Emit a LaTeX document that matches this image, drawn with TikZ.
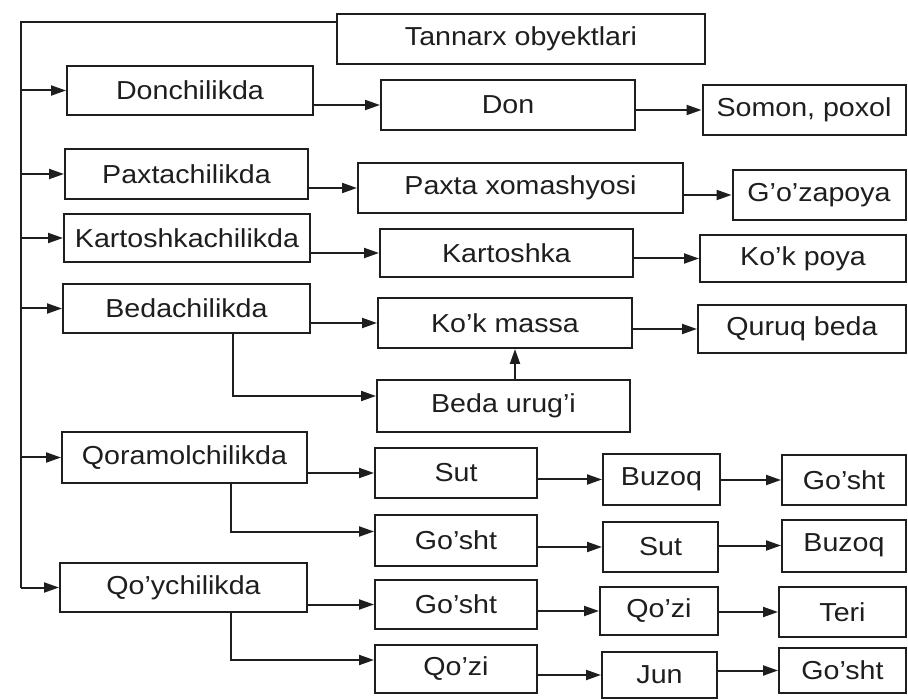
\documentclass[tikz,border=0pt]{standalone}
\usepackage{fontspec}
\setmainfont{Liberation Sans}[FakeStretch=1.1]
\usetikzlibrary{arrows.meta}
\definecolor{ink}{HTML}{1E1E1E}
\begin{document}
\begin{tikzpicture}[x=1pt,y=-1pt,
  box/.style={draw=ink,line width=2pt,inner sep=0pt,anchor=center,
    text=ink,font=\fontsize{26}{30}\selectfont},
  arr/.style={draw=ink,line width=2pt,-{Triangle[length=15pt,width=10pt]}},
  ln/.style={draw=ink,line width=2pt}]
\useasboundingbox (0,0) rectangle (908,700);
\fill[white] (0,0) rectangle (908,700);
% top
\node[box,minimum width=368pt,minimum height=50pt] (title) at (521,39) {Tannarx obyektlari};
% Donchilikda row
\node[box,minimum width=246pt,minimum height=49pt] (don1) at (190,90.5) {Donchilikda};
\node[box,minimum width=254pt,minimum height=50pt] (don2) at (508,105) {Don};
\node[box,minimum width=203pt,minimum height=50pt] (don3) at (804,110) {Somon, poxol};
% Paxtachilikda row
\node[box,minimum width=243pt,minimum height=50pt] (pax1) at (186.5,174) {Paxtachilikda};
\node[box,minimum width=325pt,minimum height=50pt] (pax2) at (520.5,188) {Paxta xomashyosi};
\node[box,minimum width=173pt,minimum height=50pt] (pax3) at (819,195) {G'o'zapoya};
% Kartoshkachilikda row
\node[box,minimum width=246pt,minimum height=48pt] (kar1) at (187,238) {Kartoshkachilikda};
\node[box,minimum width=253pt,minimum height=48pt] (kar2) at (506.5,253) {Kartoshka};
\node[box,minimum width=206pt,minimum height=47pt] (kar3) at (803,258.5) {Ko'k poya};
% Bedachilikda row
\node[box,minimum width=247pt,minimum height=49pt] (bed1) at (186.5,308.5) {Bedachilikda};
\node[box,minimum width=254pt,minimum height=50pt] (bed2) at (505,323) {Ko'k massa};
\node[box,minimum width=208pt,minimum height=48pt] (bed3) at (802,329) {Quruq beda};
\node[box,minimum width=253pt,minimum height=52pt] (bed4) at (503.5,406) {Beda urug'i};
% Qoramolchilikda rows
\node[box,minimum width=245pt,minimum height=51pt] (qor1) at (184.5,457.5) {Qoramolchilikda};
\node[box,minimum width=162pt,minimum height=50pt] (qor2) at (456,473) {Sut};
\node[box,minimum width=117pt,minimum height=51pt] (qor3) at (661.5,479.5) {Buzoq};
\node[box,minimum width=124pt,minimum height=50pt] (qor4) at (844,480) {Go'sht};
\node[box,minimum width=162pt,minimum height=51pt] (qor5) at (456,540.5) {Go'sht};
\node[box,minimum width=115pt,minimum height=50pt] (qor6) at (660.5,547) {Sut};
\node[box,minimum width=124pt,minimum height=52pt] (qor7) at (844,545.5) {Buzoq};
% Qo'ychilikda rows
\node[box,minimum width=247pt,minimum height=49pt] (qoy1) at (183.5,587.5) {Qo'ychilikda};
\node[box,minimum width=162pt,minimum height=49pt] (qoy2) at (456,604.5) {Go'sht};
\node[box,minimum width=118pt,minimum height=48pt] (qoy3) at (659,611) {Qo'zi};
\node[box,minimum width=127pt,minimum height=50pt] (qoy4) at (842.5,612) {Teri};
\node[box,minimum width=162pt,minimum height=48pt] (qoy5) at (456,669) {Qo'zi};
\node[box,minimum width=115pt,minimum height=46pt] (qoy6) at (659.5,675) {Jun};
\node[box,minimum width=127pt,minimum height=45pt] (qoy7) at (842.5,670.5) {Go'sht};
% trunk
\coordinate (top) at (21,22);
\draw[ln] (title.west |- top) -- (top) -- (top |- qoy1.west);
\foreach \n in {don1,pax1,kar1,bed1,qor1,qoy1}
  \draw[arr] (top |- \n.west) -- (\n.west);
% horizontal chains
\foreach \a/\b in {don1/don2,don2/don3,pax1/pax2,pax2/pax3,kar1/kar2,kar2/kar3,
  bed1/bed2,bed2/bed3,qor1/qor2,qor2/qor3,qor3/qor4,qor5/qor6,qor6/qor7,
  qoy1/qoy2,qoy2/qoy3,qoy3/qoy4,qoy5/qoy6,qoy6/qoy7}
  \draw[arr] (\a.east |- \b.west) -- (\b.west);
% elbow branches
\draw[arr] ([xshift=46pt]bed1.south) |- ([yshift=10pt]bed4.west);
\draw[arr] ([xshift=46pt]qor1.south) |- ([yshift=9pt]qor5.west);
\draw[arr] ([xshift=47pt]qoy1.south) |- ([yshift=9pt]qoy5.west);
% up arrow
\draw[arr] ([xshift=11.5pt]bed4.north) -- ([xshift=11.5pt]bed4.north |- bed2.south);
\end{tikzpicture}
\end{document}
